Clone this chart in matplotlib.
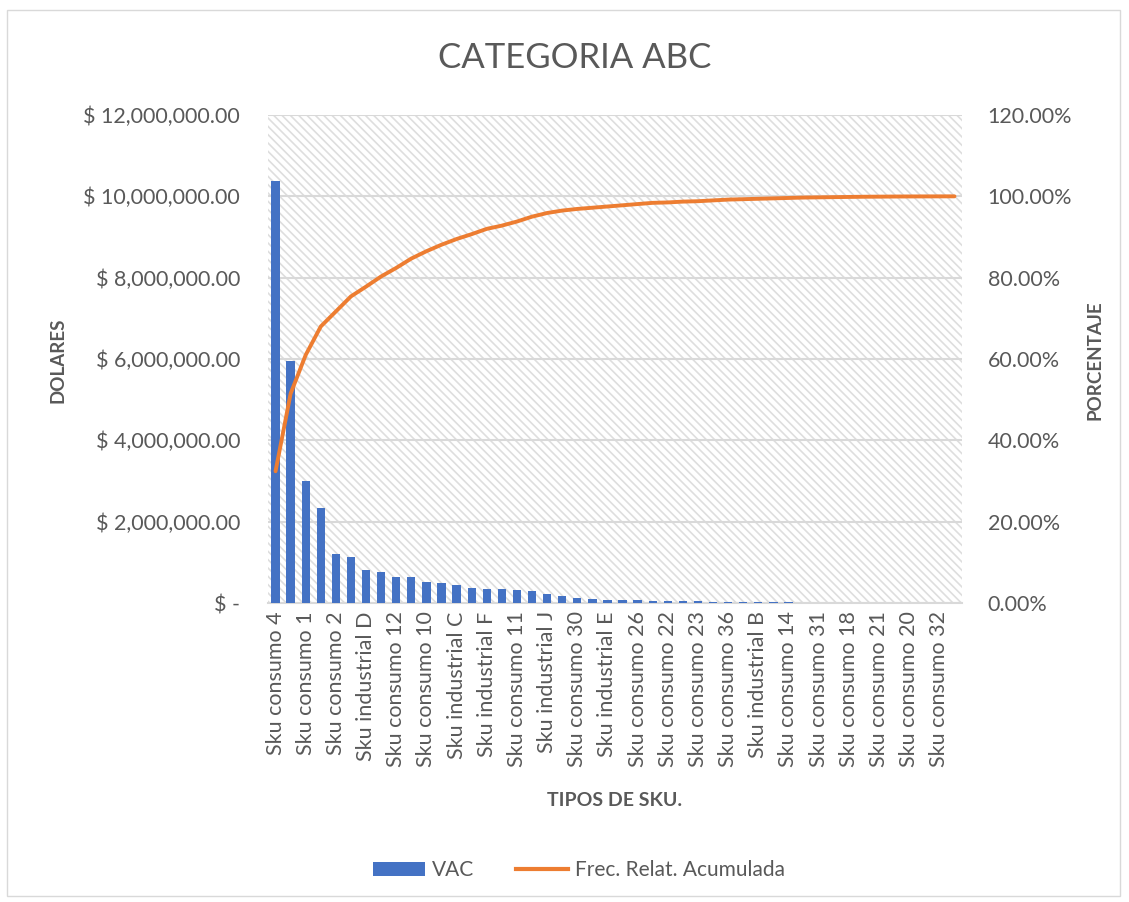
import matplotlib
matplotlib.use("Agg")
import matplotlib.pyplot as plt
from matplotlib.patches import Rectangle, Patch
from matplotlib.lines import Line2D
from matplotlib.ticker import FuncFormatter, MultipleLocator

plt.rcParams['font.family'] = ['Lato', 'DejaVu Sans']
plt.rcParams['hatch.linewidth'] = 1.2

categories = [
    "Sku consumo 4", "Sku consumo 3", "Sku consumo 1", "Sku consumo 5",
    "Sku consumo 2", "Sku industrial A", "Sku industrial D", "Sku consumo 6",
    "Sku consumo 12", "Sku consumo 7", "Sku consumo 10", "Sku consumo 8",
    "Sku industrial C", "Sku industrial G", "Sku industrial F", "Sku consumo 9",
    "Sku consumo 11", "Sku industrial H", "Sku industrial J", "Sku consumo 13",
    "Sku consumo 30", "Sku consumo 15", "Sku industrial E", "Sku industrial I",
    "Sku consumo 26", "Sku consumo 16", "Sku consumo 22", "Sku consumo 17",
    "Sku consumo 23", "Sku consumo 19", "Sku consumo 36", "Sku consumo 24",
    "Sku industrial B", "Sku consumo 25", "Sku consumo 14", "Sku consumo 27",
    "Sku consumo 31", "Sku consumo 28", "Sku consumo 18", "Sku consumo 29",
    "Sku consumo 21", "Sku consumo 33", "Sku consumo 20", "Sku consumo 34",
    "Sku consumo 32", "Sku consumo 35",
]

vac = [
    10370000, 5950000, 3010000, 2340000, 1210000, 1130000, 820000, 760000,
    650000, 640000, 520000, 500000, 450000, 380000, 340000, 335000,
    330000, 300000, 220000, 170000, 115000, 110000, 75000, 70000,
    65000, 52000, 50000, 45000, 40000, 35000, 30000, 25000,
    20000, 18000, 15000, 12000, 10000, 8000, 6000, 5000,
    4000, 3000, 2000, 1500, 1000, 500,
]

frec_acum = [
    0.324, 0.515, 0.610, 0.680, 0.717, 0.754, 0.778, 0.803,
    0.824, 0.847, 0.865, 0.881, 0.895, 0.907, 0.920, 0.928,
    0.938, 0.950, 0.959, 0.965, 0.969, 0.972, 0.975, 0.978,
    0.981, 0.984, 0.985, 0.987, 0.988, 0.990, 0.992, 0.993,
    0.994, 0.995, 0.996, 0.997, 0.9975, 0.998, 0.9985, 0.999,
    0.9992, 0.9995, 0.9997, 0.9998, 0.9999, 1.000,
]

TXT = "#595959"
GRID = "#d9d9d9"

W, H = 1129, 902
fig = plt.figure(figsize=(W / 100, H / 100), dpi=100)

# outer chart border
fig.patches.append(Rectangle((7 / W, 1 - 896 / H), (1120 - 7) / W, (896 - 10) / H,
                             transform=fig.transFigure, fill=False,
                             edgecolor=GRID, linewidth=1.0))

L, R, T, B = 268, 962, 115, 603
ax = fig.add_axes([L / W, 1 - B / H, (R - L) / W, (B - T) / H])
ax.patch.set_facecolor("white")
ax.add_patch(Rectangle((0, 0), 1, 1, transform=ax.transAxes, facecolor="none",
                       edgecolor="#dedede", linewidth=0, hatch="\\\\\\\\", zorder=0))

x = list(range(len(categories)))
ax.bar(x, vac, width=0.55, color="#4472C4", zorder=3)
ax.set_xlim(-0.5, len(categories) - 0.5)
ax.set_ylim(0, 12000000)
ax.yaxis.set_major_locator(MultipleLocator(2000000))
ax.yaxis.set_major_formatter(FuncFormatter(lambda v, p: "$ -" if v == 0 else f"$ {v:,.2f}"))
ax.grid(axis="y", color=GRID, linewidth=1.5, zorder=1)
ax.set_axisbelow(True)
for s in ["top", "right", "left"]:
    ax.spines[s].set_visible(False)
ax.spines["bottom"].set_color(GRID)
ax.spines["bottom"].set_linewidth(1.5)
ax.set_xticks(x[::2])
ax.set_xticklabels(categories[::2], rotation=90, fontsize=15.5, color=TXT)
ax.tick_params(axis="x", length=0, pad=6)
ax.tick_params(axis="y", length=0, labelsize=15.5, labelcolor=TXT, pad=20)

ax2 = ax.twinx()
ax2.plot(x, frec_acum, color="#ED7D31", linewidth=2.8, zorder=4,
         solid_capstyle="round")
ax2.set_ylim(0, 1.2)
ax2.yaxis.set_major_locator(MultipleLocator(0.2))
ax2.yaxis.set_major_formatter(FuncFormatter(lambda v, p: f"{v * 100:.2f}%"))
ax2.tick_params(axis="y", length=0, labelsize=15.5, labelcolor=TXT, pad=18.5)
for s in ax2.spines.values():
    s.set_visible(False)

fig.text(575 / W, 1 - 58 / H, "CATEGORIA ABC", ha="center", va="center",
         fontsize=25, color=TXT)
fig.text(58 / W, 1 - 360 / H, "DOLARES", ha="center", va="center", rotation=90,
         fontsize=13.5, fontweight="bold", color=TXT)
fig.text(1095 / W, 1 - 360 / H, "PORCENTAJE", ha="center", va="center", rotation=90,
         fontsize=13.5, fontweight="bold", color=TXT)
fig.text(615 / W, 1 - 801 / H, "TIPOS DE SKU.", ha="center", va="center",
         fontsize=14, fontweight="bold", color=TXT)

handles = [Patch(facecolor="#4472C4", edgecolor="none"),
           Line2D([0], [0], color="#ED7D31", linewidth=3)]
fig.legend(handles, ["VAC", "Frec. Relat. Acumulada"], loc="center",
           bbox_to_anchor=(579 / W, 1 - 870 / H), ncol=2, frameon=False,
           fontsize=15, labelcolor=TXT, handlelength=2.5, handleheight=0.65,
           columnspacing=2.0, handletextpad=0.35)

fig.savefig("out.png", dpi=100)
